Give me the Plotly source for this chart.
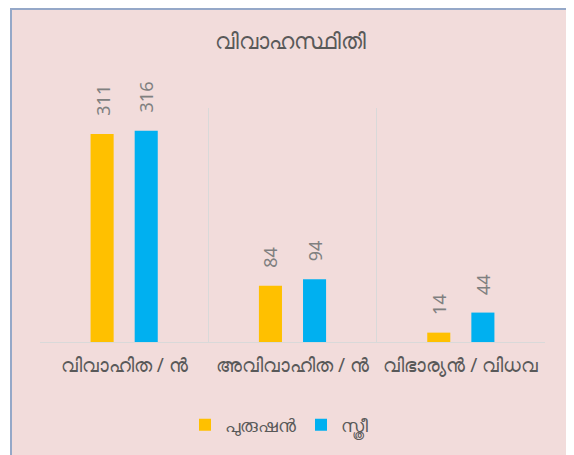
import plotly.graph_objects as go

title = "വിവാഹസ്ഥിതി"
categories = ["വിവാഹിത / ൻ", "അവിവാഹിത / ൻ", "വിഭാര്യൻ / വിധവ"]
series_names = ["പുരുഷൻ", "സ്ത്രീ"]
male = [311, 84, 14]
female = [316, 94, 44]
colors = ["#FFC000", "#00B0F0"]

# page body has an 8px margin; layout numbers below are in figure pixels
W, H = 566, 447
L, R, T, B = 32, 29, 100, 113
pw, ph = W - L - R, H - T - B
FONT = "Noto Sans, DejaVu Sans, sans-serif"

fig = go.Figure()
for name, vals, col in zip(series_names, [male, female], colors):
    fig.add_trace(go.Bar(x=categories, y=vals, name=name, marker_color=col,
                         marker_line_width=0))

ann = []
slot = pw / 3 * (1 - 0.476) / 2
for k, vals in enumerate([male, female]):
    shift = -slot / 2 if k == 0 else slot / 2
    for c, v in zip(categories, vals):
        ann.append(dict(x=c, y=v, xref="x", yref="y", text=str(v), showarrow=False,
                        textangle=-90, xshift=shift, yshift=16, yanchor="bottom",
                        font=dict(size=18, color="#808080", family=FONT)))

fig.update_layout(
    width=W, height=H,
    margin=dict(l=L, r=R, t=T, b=B),
    paper_bgcolor="white", plot_bgcolor="rgba(0,0,0,0)",
    barmode="group", bargap=0.476, bargroupgap=0.477,
    title=dict(text=title, x=(282 - L) / pw, xref="paper", xanchor="center",
               y=1 - 33 / H, yanchor="middle",
               font=dict(size=22, color="#595959", family=FONT)),
    font=dict(family=FONT, color="#595959"),
    xaxis=dict(tickson="boundaries", showgrid=True, gridcolor="#d9d9d9", gridwidth=1,
               showline=True, linecolor="#d9d9d9", ticks="", ticklabelstandoff=6,
               tickfont=dict(size=19, color="#595959"), fixedrange=True),
    yaxis=dict(range=[0, 350], visible=False, showgrid=False),
    legend=dict(orientation="h", x=(271 - L) / pw, xanchor="center", y=(334 - 417) / ph,
                yanchor="middle", font=dict(size=18, color="#595959"),
                bgcolor="rgba(0,0,0,0)"),
    annotations=ann,
    shapes=[dict(type="rect", xref="paper", yref="paper", layer="below",
                 x0=(3 - L) / pw, x1=(563 - L) / pw, y0=(334 - 470) / ph, y1=(334 - 1) / ph,
                 fillcolor="#F2DCDB", line=dict(color="#95A8C8", width=2))],
)

fig.write_html("out.html")
